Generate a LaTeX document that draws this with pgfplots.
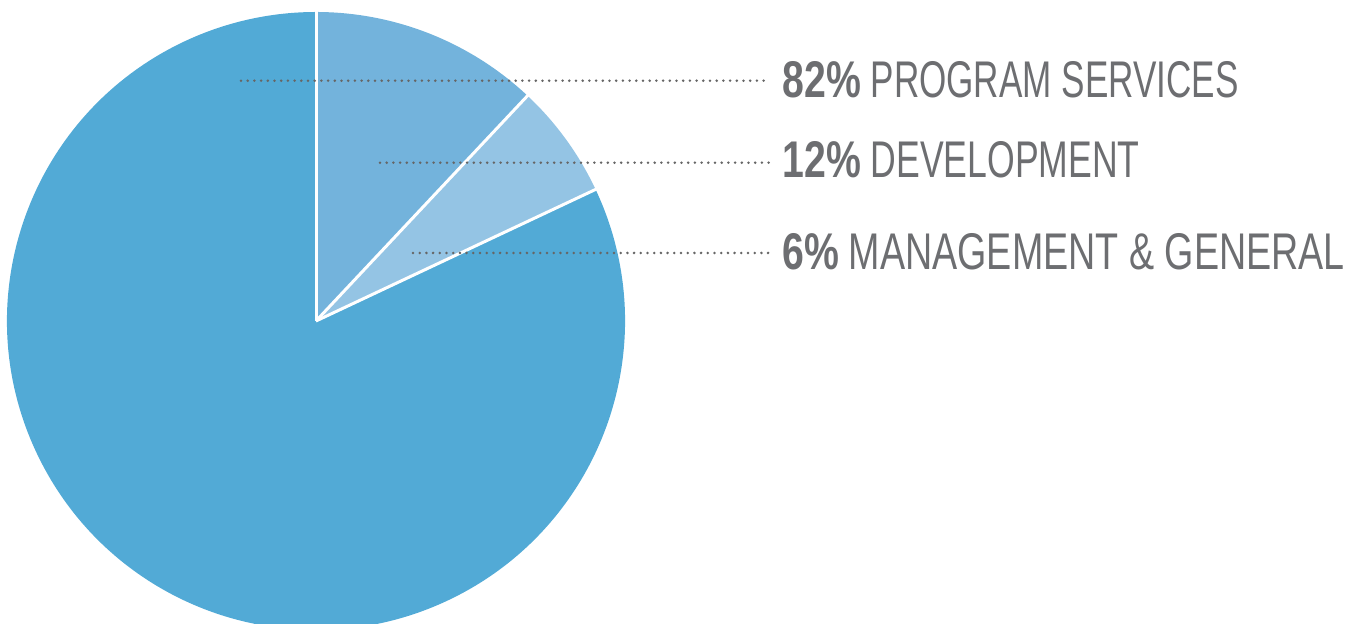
\documentclass[border=0pt]{standalone}
\usepackage{pgfplots}
\pgfplotsset{compat=1.18}
\usepackage{pgfplotstable}
\usepackage{fontspec}
\setmainfont{Liberation Sans}[FakeStretch=0.68, BoldFeatures={FakeStretch=0.76}]
\newfontfamily\wideR{Liberation Sans}[FakeStretch=0.73]
\newfontfamily\midR{Liberation Sans}[FakeStretch=0.69]
\definecolor{cprog}{HTML}{52AAD6}
\definecolor{cdev}{HTML}{73B3DC}
\definecolor{cman}{HTML}{94C4E4}
\definecolor{txtgray}{HTML}{6D6E71}
\definecolor{dotgray}{HTML}{666666}
\pgfplotstableread{
pct label
82 program
12 development
6 management
}\piedata
\begin{document}
\begin{tikzpicture}
\pgfplotstablegetelem{0}{pct}\of\piedata \let\pA\pgfplotsretval
\pgfplotstablegetelem{1}{pct}\of\piedata \let\pB\pgfplotsretval
\pgfplotstablegetelem{2}{pct}\of\piedata \let\pC\pgfplotsretval
\pgfmathsetmacro{\aDev}{90-3.6*\pB}
\pgfmathsetmacro{\aMan}{\aDev-3.6*\pC}
\pgfmathsetmacro{\aProg}{\aMan-3.6*\pA}
\useasboundingbox (0,0) rectangle (678.5pt,312pt);
\begin{axis}[x=0.5pt, y=0.5pt, xmin=0, xmax=1357, ymin=0, ymax=624,
  hide axis, scale only axis, clip=true, anchor=south west, at={(0,0)}]
\fill[cprog] (axis cs:316,303) -- ++(\aMan:154.5pt) arc[start angle=\aMan, end angle=\aProg, radius=154.5pt] -- cycle;
\fill[cdev] (axis cs:316,303) -- ++(90:154.5pt) arc[start angle=90, end angle=\aDev, radius=154.5pt] -- cycle;
\fill[cman] (axis cs:316,303) -- ++(\aDev:154.5pt) arc[start angle=\aDev, end angle=\aMan, radius=154.5pt] -- cycle;
\draw[white, line width=1.5pt] (axis cs:316,303) -- ++(90:156pt);
\draw[white, line width=1.5pt] (axis cs:316,303) -- ++(\aDev:156pt);
\draw[white, line width=1.5pt] (axis cs:316,303) -- ++(\aMan:156pt);
\tikzset{dots/.style={dotgray, line width=1.4pt, line cap=round, dash pattern=on 0pt off 3.35pt}}
\draw[dots] (axis cs:241,543.3) -- (axis cs:770,543.3);
\draw[dots] (axis cs:380,461.3) -- (axis cs:770,461.3);
\draw[dots] (axis cs:413,371) -- (axis cs:770,371);
\node[anchor=base west, text=txtgray, inner sep=0, font=\fontsize{25.8}{30}\selectfont] at (axis cs:782,526) {\textbf{82\%} PROGRAM SERVICES};
\node[anchor=base west, text=txtgray, inner sep=0, font=\fontsize{25.8}{30}\selectfont] at (axis cs:782,446) {\textbf{12\%} \midR DEVELOPMENT};
\node[anchor=base west, text=txtgray, inner sep=0, font=\fontsize{25.8}{30}\selectfont] at (axis cs:782,354) {\textbf{6\%} \wideR MANAGEMENT \& GENERAL};
\end{axis}
\end{tikzpicture}
\end{document}
